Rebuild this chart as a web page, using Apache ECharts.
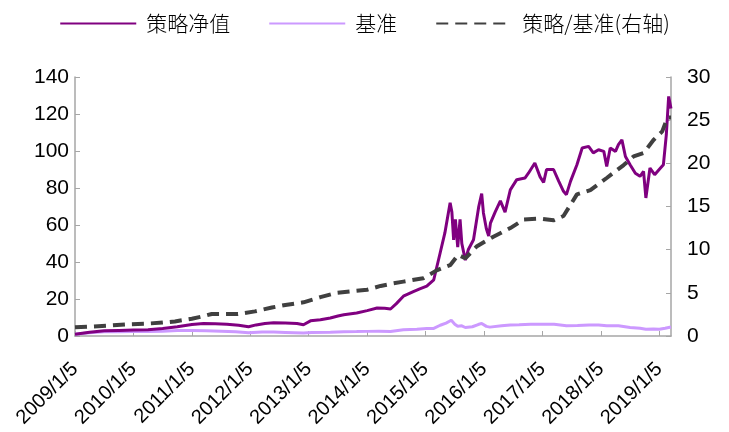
<!DOCTYPE html>
<html>
<head>
<meta charset="utf-8">
<script src="https://cdn.jsdelivr.net/npm/echarts@6/dist/echarts.min.js"></script>
<style>
html,body{margin:0;padding:0;background:#fff;}
#c{width:729px;height:432px;}
</style>
</head>
<body>
<div id="c"></div>
<script>
// x positions are in years, where 2009.0 = 2009/1/5
const seriesNames = ['策略净值', '基准', '策略/基准(右轴)'];
const xTickYears = [2009, 2010, 2011, 2012, 2013, 2014, 2015, 2016, 2017, 2018, 2019];
const xTickSuffix = '/1/5';

const navT = [2009.0,2009.25,2009.5,2009.75,2010.0,2010.25,2010.5,2010.75,2011.0,2011.2,2011.4,2011.6,2011.8,2011.97,2012.1,2012.25,2012.4,2012.6,2012.8,2012.91,2013.03,2013.2,2013.37,2013.5,2013.6,2013.82,2014.0,2014.17,2014.3,2014.4,2014.5,2014.62,2014.79,2014.9,2015.02,2015.14,2015.25,2015.33,2015.42,2015.45,2015.48,2015.51,2015.55,2015.59,2015.62,2015.68,2015.73,2015.82,2015.91,2015.96,2015.99,2016.04,2016.08,2016.11,2016.19,2016.28,2016.36,2016.45,2016.56,2016.7,2016.76,2016.87,2016.96,2017.02,2017.07,2017.19,2017.28,2017.36,2017.41,2017.48,2017.59,2017.68,2017.79,2017.87,2017.96,2018.05,2018.1,2018.16,2018.25,2018.3,2018.36,2018.42,2018.5,2018.59,2018.67,2018.73,2018.77,2018.84,2018.92,2019.02,2019.07,2019.12,2019.16,2019.2];
const navV = [1.0,2.0,2.8,3.0,3.2,3.4,4.0,5.0,6.2,6.8,6.6,6.4,5.8,5.0,6.0,6.8,7.2,7.0,6.8,6.1,8.2,8.8,9.7,10.8,11.5,12.4,13.7,15.1,15.0,14.6,17.5,21.5,24,25.5,27,30.4,45,55.7,72,67,52,63,48,63,50,41,46.6,52,70,77,66.5,58,54,61,67,73,67,79,84.5,85.4,88,93.5,86,83,90,90,83.6,78.2,76.4,83.6,92.6,101.6,102.5,99,100.7,99.8,91.7,101.6,99.8,103.4,106,97,92.6,88,86.3,89,74.6,90.8,87.2,90.8,92.6,108.8,129.5,123];

const benchT = [2009.0,2009.25,2009.5,2009.75,2010.0,2010.25,2010.5,2010.75,2011.0,2011.25,2011.5,2011.75,2011.97,2012.2,2012.4,2012.6,2012.91,2013.05,2013.37,2013.6,2013.82,2014.0,2014.2,2014.4,2014.62,2014.85,2015.02,2015.14,2015.25,2015.35,2015.44,2015.5,2015.55,2015.62,2015.68,2015.8,2015.9,2015.96,2016.04,2016.1,2016.3,2016.45,2016.6,2016.8,2016.96,2017.2,2017.41,2017.6,2017.8,2017.96,2018.1,2018.3,2018.5,2018.67,2018.77,2018.9,2019.0,2019.1,2019.2];
const benchV = [1.0,1.7,2.3,2.3,2.4,2.4,2.5,3.0,3.0,2.8,2.6,2.3,1.8,2.2,2.1,1.95,1.6,1.9,2.0,2.3,2.4,2.5,2.6,2.4,3.4,3.6,4.0,4.1,5.8,7.0,8.5,6.4,5.3,5.5,4.6,5.0,6.2,6.8,5.2,4.8,5.5,6.0,6.1,6.3,6.3,6.4,5.6,5.7,6.0,6.0,5.5,5.5,4.6,4.2,3.6,3.8,3.6,4.2,4.9];

const ratioT = [2009.0,2009.3,2009.57,2009.9,2010.2,2010.5,2010.71,2011.0,2011.2,2011.34,2011.6,2011.79,2012.08,2012.37,2012.6,2012.91,2013.2,2013.48,2013.75,2014.0,2014.23,2014.45,2014.62,2014.96,2015.19,2015.3,2015.42,2015.56,2015.68,2015.88,2016.16,2016.45,2016.68,2016.96,2017.19,2017.36,2017.48,2017.59,2017.82,2018.1,2018.39,2018.56,2018.73,2018.9,2019.05,2019.14,2019.2];
const ratioV = [1.0,1.1,1.2,1.35,1.42,1.55,1.69,2.0,2.3,2.55,2.55,2.55,2.85,3.3,3.6,3.9,4.5,5.0,5.2,5.36,5.8,6.1,6.3,6.7,7.6,7.9,8.2,9.4,9.0,10.4,11.5,12.5,13.5,13.6,13.4,13.9,15.2,16.4,16.9,18.3,19.8,20.8,21.2,22.7,23.7,25.3,25.3];

const leftTicks = {min: 0, max: 140, interval: 20};
const rightTicks = {min: 0, max: 30, interval: 5};

const pair = (t, v) => t.map((x, i) => [x, v[i]]);
const FONT = '"Liberation Sans", Arial, "Noto Sans CJK SC", sans-serif';
const axisColor = '#A6A6A6';

const chart = echarts.init(document.getElementById('c'), null, {renderer: 'canvas'});
chart.setOption({
  animation: false,
  backgroundColor: '#ffffff',
  textStyle: {fontFamily: FONT},
  legend: {
    top: 8,
    left: 'center',
    itemWidth: 76,
    itemHeight: 4,
    itemGap: 38,
    itemStyle: {opacity: 0},
    textStyle: {fontSize: 21, color: '#000', fontFamily: '"Noto Sans CJK SC", sans-serif', fontWeight: 300, padding: [0, 0, 0, 5]},
    data: seriesNames
  },
  grid: {left: 75, right: 58, top: 77, bottom: 96, containLabel: false, outerBoundsMode: 'none'},
  xAxis: {
    type: 'value',
    min: 2009,
    max: 2019.2,
    interval: 1,
    splitLine: {show: false},
    axisLine: {lineStyle: {color: axisColor, width: 1.5}},
    axisTick: {inside: true, length: 5, lineStyle: {color: axisColor}},
    axisLabel: {
      rotate: 45,
      fontSize: 20,
      color: '#000',
      margin: 30,
      showMaxLabel: false,
      formatter: v => (xTickYears.indexOf(Math.round(v * 1000) / 1000) >= 0 ? v + xTickSuffix : '')
    }
  },
  yAxis: [
    {
      type: 'value',
      min: leftTicks.min, max: leftTicks.max, interval: leftTicks.interval,
      splitLine: {show: false},
      axisLine: {show: true, lineStyle: {color: axisColor, width: 1.5}},
      axisTick: {show: true, inside: true, length: 5, lineStyle: {color: axisColor}},
      axisLabel: {fontSize: 21, color: '#000', margin: 6}
    },
    {
      type: 'value',
      min: rightTicks.min, max: rightTicks.max, interval: rightTicks.interval,
      splitLine: {show: false},
      axisLine: {show: true, lineStyle: {color: axisColor, width: 1.5}},
      axisTick: {show: true, inside: true, length: 5, lineStyle: {color: axisColor}},
      axisLabel: {fontSize: 21, color: '#000', margin: 16}
    }
  ],
  series: [
    {
      name: seriesNames[1], type: 'line', yAxisIndex: 0, symbol: 'none',
      data: pair(benchT, benchV),
      lineStyle: {color: '#CC99FF', width: 3},
      itemStyle: {color: '#CC99FF'},
      z: 2
    },
    {
      name: seriesNames[0], type: 'line', yAxisIndex: 0, symbol: 'none',
      data: pair(navT, navV),
      lineStyle: {color: '#800080', width: 3},
      itemStyle: {color: '#800080'},
      z: 3
    },
    {
      name: seriesNames[2], type: 'line', yAxisIndex: 1, symbol: 'none',
      data: pair(ratioT, ratioV),
      lineStyle: {color: '#404040', width: 4, type: [12, 7]},
      itemStyle: {color: '#404040'},
      z: 4
    }
  ]
});
</script>
</body>
</html>
